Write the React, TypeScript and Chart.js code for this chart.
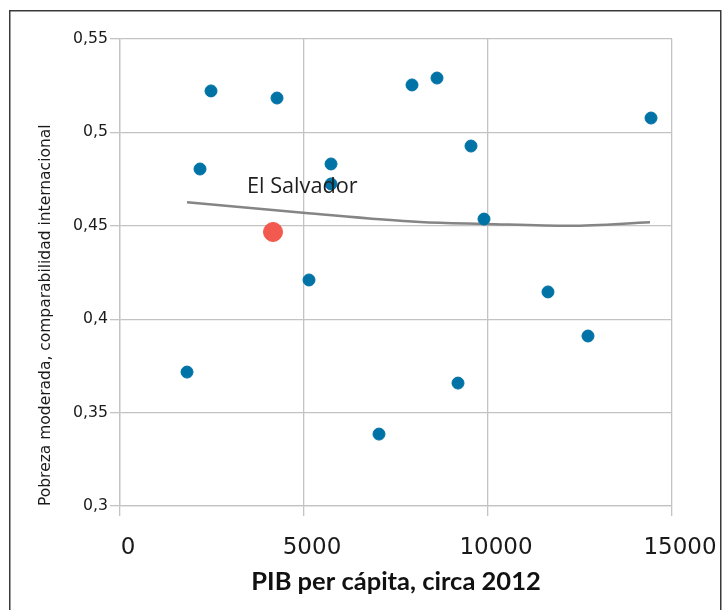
import React, { useEffect, useRef } from 'react';
import { Chart, registerables } from 'chart.js';

Chart.register(...registerables);

// Countries (PIB per cápita, pobreza moderada)
const countriesX = [1821, 2174, 2473, 4266, 5136, 5734, 5734, 7038, 7935, 8614, 9185, 9538, 9891, 11630, 12717, 14430];
const countriesY = [0.3717, 0.4804, 0.5222, 0.5184, 0.421, 0.4831, 0.4724, 0.3385, 0.5254, 0.5291, 0.3658, 0.4927, 0.4536, 0.4146, 0.391, 0.5077];

// El Salvador
const elSalvadorX = [4158];
const elSalvadorY = [0.4467];
const elSalvadorLabel = 'El Salvador';

// Trend line
const trendX = [1821, 4973, 8152, 9918, 12228, 14402];
const trendY = [0.4626, 0.457, 0.452, 0.451, 0.45, 0.4519];

const xTicks = [0, 5000, 10000, 15000];
const xTickLabels = ['0', '5000', '10000', '15000'];
const yTicks = [0.3, 0.35, 0.4, 0.45, 0.5, 0.55];
const yTickLabels = ['0,3', '0,35', '0,4', '0,45', '0,5', '0,55'];

const xTitle = 'PIB per cápita, circa 2012';
const yTitle = 'Pobreza moderada, comparabilidad internacional';

const GRID = '#c3c3c3';

const zip = (xs: number[], ys: number[]) => xs.map((x, i) => ({ x, y: ys[i] }));

const framePlugin = {
  id: 'frameAndLabel',
  beforeDraw(chart: any) {
    const ctx = chart.ctx;
    ctx.save();
    ctx.fillStyle = '#ffffff';
    ctx.fillRect(0, 0, chart.width, chart.height);
    ctx.restore();
  },
  afterDatasetsDraw(chart: any) {
    const ctx = chart.ctx;
    const xs = chart.scales.x;
    const ys = chart.scales.y;
    const px = xs.getPixelForValue(elSalvadorX[0]);
    const py = ys.getPixelForValue(elSalvadorY[0]);
    ctx.save();
    ctx.fillStyle = '#1e1e1e';
    ctx.font = '21.7px "Open Sans"';
    ctx.textAlign = 'left';
    ctx.textBaseline = 'alphabetic';
    ctx.fillText(elSalvadorLabel, px - 26, py - 39);
    ctx.restore();
  },
  afterDraw(chart: any) {
    const ctx = chart.ctx;
    ctx.save();
    ctx.strokeStyle = '#3a3a3a';
    ctx.lineWidth = 1.5;
    ctx.strokeRect(9.75, 10.75, 711, 700);
    ctx.restore();
  },
};

export default function App() {
  const ref = useRef<HTMLCanvasElement | null>(null);

  useEffect(() => {
    if (!ref.current) return;
    const chart = new Chart(ref.current, {
      type: 'scatter',
      data: {
        datasets: [
          {
            label: 'El Salvador',
            data: zip(elSalvadorX, elSalvadorY),
            backgroundColor: '#f25a4f',
            borderColor: '#f25a4f',
            pointRadius: 9.5,
            pointHoverRadius: 9.5,
            order: 0,
          },
          {
            label: 'Países',
            data: zip(countriesX, countriesY),
            backgroundColor: '#0073a6',
            borderColor: '#0073a6',
            pointRadius: 6,
            pointHoverRadius: 6,
            order: 1,
          },
          {
            type: 'line',
            label: 'Tendencia',
            data: zip(trendX, trendY),
            borderColor: '#858585',
            borderWidth: 2.5,
            pointRadius: 0,
            fill: false,
            cubicInterpolationMode: 'monotone',
            order: 2,
          } as any,
        ],
      },
      options: {
        animation: false,
        responsive: false,
        devicePixelRatio: 1,
        events: [],
        layout: { padding: { left: 0, top: 39, right: 56, bottom: 0 } },
        plugins: { legend: { display: false }, tooltip: { enabled: false } },
        scales: {
          x: {
            type: 'linear',
            min: 0,
            max: 15000,
            afterBuildTicks: (s: any) => {
              s.ticks = xTicks.map((v) => ({ value: v }));
            },
            afterFit: (s: any) => {
              s.height = 104;
            },
            grid: { color: GRID, lineWidth: 1.3, tickLength: 10, drawTicks: true },
            border: { display: true, color: GRID, width: 1.3 },
            ticks: {
              padding: 18,
              labelOffset: 8,
              maxRotation: 0,
              color: '#1a1a1a',
              font: { family: '"DejaVu Sans"', size: 23 },
              callback: (_v: any, i: number) => xTickLabels[i],
            },
            title: {
              display: true,
              text: xTitle,
              color: '#111',
              font: { family: 'Lato', size: 25.5, weight: 'bold' },
              padding: { top: 0, bottom: 13 },
            },
          },
          y: {
            type: 'linear',
            min: 0.3,
            max: 0.55,
            afterBuildTicks: (s: any) => {
              s.ticks = yTicks.map((v) => ({ value: v }));
            },
            afterFit: (s: any) => {
              s.width = 120;
            },
            grid: { color: GRID, lineWidth: 1.3, tickLength: 10, drawTicks: true },
            border: { display: true, color: GRID, width: 1.3 },
            ticks: {
              padding: 2,
              color: '#1a1a1a',
              font: { family: '"DejaVu Sans"', size: 15.7 },
              callback: (_v: any, i: number) => yTickLabels[i],
            },
            title: {
              display: true,
              text: yTitle,
              align: 'start',
              color: '#1a1a1a',
              font: { family: '"DejaVu Sans"', size: 15.5 },
              padding: { top: 37, bottom: 0 },
            },
          },
        },
      },
      plugins: [framePlugin],
    });
    return () => chart.destroy();
  }, []);

  return (
    <div style={{ position: 'fixed', left: 0, top: 0, width: 728, height: 610, background: '#fff' }}>
      <canvas ref={ref} width={728} height={610} style={{ display: 'block', width: 728, height: 610 }} />
    </div>
  );
}
